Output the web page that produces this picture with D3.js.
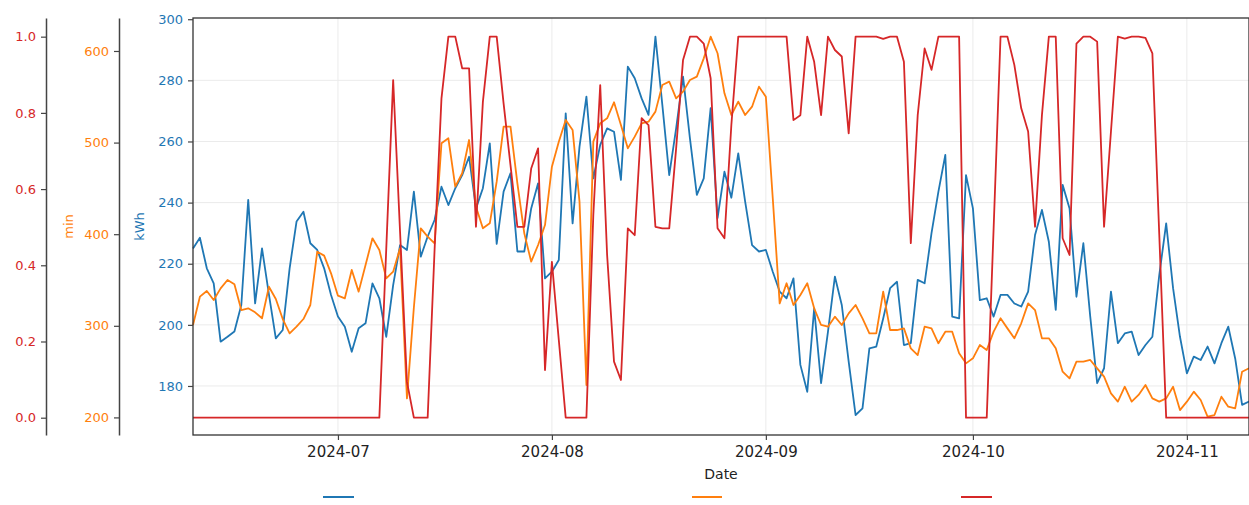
<!DOCTYPE html>
<html>
<head>
<meta charset="utf-8">
<script src="https://cdn.jsdelivr.net/npm/d3@7"></script>
<style>
  html, body { margin: 0; padding: 0; background: #fff; }
  svg { display: block; font-family: "DejaVu Sans", sans-serif; }
  .grid line { stroke: #ebebeb; stroke-width: 1; }
  .series { fill: none; stroke-width: 1.8; stroke-linejoin: round; }
  .axis .domain { stroke: #444; stroke-width: 1.5; }
  .axis .tick line { stroke: #444; stroke-width: 1.2; }
</style>
</head>
<body>
<svg id="chart" width="1249" height="505"></svg>
<script>
// daily series, first day 2024-06-10
const startDay = '2024-06-10';

const kwh = [
  225.0, 228.5, 218.5, 213.6, 194.5, 196.1, 197.8, 206.5, 240.9, 207.0,
  225.0, 210.0, 195.6, 198.3, 218.5, 233.8, 237.0, 226.7, 224.5, 218.5,
  209.8, 202.7, 199.4, 191.2, 198.9, 200.5, 213.6, 208.7, 196.1, 213.0,
  226.1, 224.5, 243.6, 222.3, 228.9, 234.3, 245.2, 239.2, 244.7, 249.0,
  255.0, 238.1, 244.7, 259.4, 226.5, 243.6, 249.6, 224.0, 224.0, 238.1,
  246.3, 215.2, 217.4, 221.2, 269.2, 233.2, 258.3, 274.7, 247.9, 258.9,
  264.3, 263.2, 247.4, 284.5, 280.7, 274.1, 268.7, 294.3, 272.0, 249.0,
  264.3, 281.2, 261.0, 242.5, 247.9, 270.9, 234.9, 250.1, 241.6, 256.1,
  240.3, 226.1, 224.0, 224.5, 217.4, 210.9, 208.7, 215.2, 186.9, 178.1,
  205.4, 180.9, 197.8, 215.8, 206.5, 188.0, 170.5, 172.7, 192.3, 192.9,
  202.1, 212.0, 214.1, 193.4, 194.0, 214.7, 213.6, 230.0, 243.6, 255.6,
  202.7, 202.1, 249.0, 238.1, 208.1, 208.7, 202.7, 209.8, 209.8, 207.0,
  206.0, 210.9, 229.4, 237.6, 227.2, 204.9, 245.8, 238.1, 209.2, 226.7,
  202.7, 180.9, 185.8, 210.9, 194.0, 197.2, 197.8, 190.1, 193.4, 196.1,
  216.3, 233.2, 212.0, 196.1, 184.1, 189.6, 188.5, 192.9, 187.4, 194.0,
  199.4, 189.0, 173.8, 174.9
];

const minutes = [
  300.9, 331.8, 338.0, 328.2, 340.9, 350.0, 345.3, 317.2, 319.1, 314.7,
  308.2, 342.7, 329.3, 307.4, 291.8, 299.0, 307.4, 322.7, 380.9, 376.6,
  357.3, 332.9, 330.0, 361.0, 337.3, 366.4, 395.5, 382.8, 351.8, 359.1,
  384.6, 220.8, 320.0, 406.4, 397.3, 390.0, 499.2, 504.7, 451.9, 466.5,
  502.8, 430.0, 406.4, 411.9, 457.3, 517.4, 517.4, 455.5, 400.9, 370.0,
  388.2, 410.0, 473.7, 501.0, 524.7, 513.8, 435.5, 235.4, 501.0, 521.0,
  526.5, 544.0, 519.2, 493.7, 506.5, 521.0, 522.8, 533.8, 562.9, 566.5,
  548.3, 555.6, 568.3, 572.0, 592.0, 615.6, 597.5, 553.8, 530.1, 544.7,
  530.1, 539.2, 561.0, 550.1, 439.2, 324.5, 346.4, 322.7, 333.6, 346.4,
  319.1, 300.9, 299.0, 310.0, 300.9, 313.6, 322.7, 308.2, 291.8, 291.8,
  337.3, 295.4, 295.4, 297.2, 275.4, 268.1, 299.0, 297.2, 280.9, 293.6,
  293.6, 270.0, 259.0, 264.5, 279.0, 273.6, 293.6, 308.2, 297.2, 286.3,
  302.7, 324.5, 317.2, 286.3, 286.3, 275.4, 249.9, 242.6, 260.8, 260.8,
  262.7, 253.6, 244.5, 226.3, 217.2, 233.5, 217.2, 224.5, 235.4, 220.8,
  217.2, 220.8, 233.5, 208.0, 217.2, 228.1, 219.0, 200.8, 202.6, 222.6,
  211.7, 209.9, 249.9, 253.6
];

const ratio = [
  0, 0, 0, 0, 0, 0, 0, 0, 0, 0,
  0, 0, 0, 0, 0, 0, 0, 0, 0, 0,
  0, 0, 0, 0, 0, 0, 0, 0, 0.443, 0.886,
  0.488, 0.094, 0, 0, 0, 0.44, 0.838, 1.0, 1.0, 0.917,
  0.917, 0.501, 0.829, 1.0, 1.0, 0.825, 0.663, 0.501, 0.501, 0.654,
  0.707, 0.125, 0.409, 0.204, 0, 0, 0, 0, 0.532, 0.873,
  0.427, 0.147, 0.099, 0.497, 0.479, 0.786, 0.768, 0.501, 0.497, 0.497,
  0.707, 0.939, 1.0, 1.0, 0.982, 0.891, 0.497, 0.471, 0.768, 1.0,
  1.0, 1.0, 1.0, 1.0, 1.0, 1.0, 1.0, 0.781, 0.794, 1.0,
  0.934, 0.794, 1.0, 0.965, 0.948, 0.746, 1.0, 1.0, 1.0, 1.0,
  0.994, 1.0, 1.0, 0.934, 0.458, 0.794, 0.969, 0.913, 1.0, 1.0,
  1.0, 1.0, 0, 0, 0, 0, 0.497, 1.0, 1.0, 0.926,
  0.812, 0.751, 0.501, 0.794, 1.0, 1.0, 0.471, 0.427, 0.982, 1.0,
  1.0, 0.987, 0.501, 0.751, 1.0, 0.995, 1.0, 1.0, 0.997, 0.956,
  0.48, 0, 0, 0, 0, 0, 0, 0, 0, 0,
  0, 0, 0, 0
];

const kwhTicks = [180, 200, 220, 240, 260, 280, 300];
const minTicks = [200, 300, 400, 500, 600];
const ratioTicks = [0, 0.2, 0.4, 0.6, 0.8, 1.0];

const colors = { kwh: '#1f77b4', min: '#ff7f0e', ratio: '#d62728' };

const config = {
  plot: { l: 193, r: 1249, t: 18, b: 435 },
  minAxisX: 119,
  ratioAxisX: 46,
  legendY: 497
};

const svg = d3.select('#chart');
const p = config.plot;
const start = d3.utcParse('%Y-%m-%d')(startDay);
const dates = kwh.map((_, i) => d3.utcDay.offset(start, i));

const x = d3.scaleUtc()
    .domain([start, dates[dates.length - 1]])
    .range([p.l, p.r]);
const yK = d3.scaleLinear().domain([163.96, 300.4]).range([p.b, p.t]);
const yM = d3.scaleLinear().domain([180.8, 636]).range([p.b, p.t]);
const yR = d3.scaleLinear().domain([-0.0454, 1.049]).range([p.b, p.t]);

const monthTicks = d3.utcMonth.range(d3.utcMonth.ceil(start), dates[dates.length - 1]);

// grid
const grid = svg.append('g').attr('class', 'grid');
grid.selectAll('.h').data(kwhTicks.slice(0, -1)).enter().append('line')
    .attr('x1', p.l).attr('x2', p.r)
    .attr('y1', d => yK(d)).attr('y2', d => yK(d));
grid.selectAll('.v').data(monthTicks).enter().append('line')
    .attr('y1', p.t).attr('y2', p.b)
    .attr('x1', d => x(d)).attr('x2', d => x(d));

// lines: blue first, red on top (like twinx stacking)
const series = [
  { values: kwh, y: yK, color: colors.kwh },
  { values: minutes, y: yM, color: colors.min },
  { values: ratio, y: yR, color: colors.ratio }
];
series.forEach(s => {
  const line = d3.line()
      .x((d, i) => x(dates[i]))
      .y(d => s.y(d));
  svg.append('path')
      .attr('class', 'series')
      .attr('stroke', s.color)
      .attr('d', line(s.values));
});

// frame
svg.append('rect')
    .attr('x', p.l).attr('y', p.t)
    .attr('width', p.r - p.l).attr('height', p.b - p.t)
    .attr('fill', 'none').attr('stroke', '#333').attr('stroke-width', 1.3);

// y axes
function yAxis(scale, ticks, fmt, xPos, color) {
  const g = svg.append('g')
      .attr('class', 'axis')
      .attr('transform', `translate(${xPos},0)`)
      .call(d3.axisLeft(scale).tickValues(ticks).tickFormat(fmt)
        .tickSize(5).tickSizeOuter(0).tickPadding(5));
  g.selectAll('.tick text')
      .attr('fill', color)
      .style('font-size', '13px')
      .style('font-family', '"DejaVu Sans", sans-serif');
  return g;
}
yAxis(yK, kwhTicks, d3.format('d'), p.l, colors.kwh).select('.domain').remove();
yAxis(yM, minTicks, d3.format('d'), config.minAxisX, colors.min);
yAxis(yR, ratioTicks, d3.format('.1f'), config.ratioAxisX, colors.ratio);

// axis titles
svg.append('text')
    .attr('transform', `translate(139,${(p.t + p.b) / 2}) rotate(-90)`)
    .attr('text-anchor', 'middle').attr('dy', '0.35em')
    .attr('fill', colors.kwh).style('font-size', '13px')
    .text('kWh');
svg.append('text')
    .attr('transform', `translate(68,${(p.t + p.b) / 2}) rotate(-90)`)
    .attr('text-anchor', 'middle').attr('dy', '0.35em')
    .attr('fill', colors.min).style('font-size', '13px')
    .text('min');

// x axis
const xg = svg.append('g')
    .attr('class', 'axis')
    .attr('transform', `translate(0,${p.b})`)
    .call(d3.axisBottom(x).tickValues(monthTicks)
      .tickFormat(d3.utcFormat('%Y-%m')).tickSize(5).tickSizeOuter(0).tickPadding(6));
xg.select('.domain').remove();
xg.selectAll('.tick text')
    .attr('fill', '#222')
    .style('font-size', '15px')
    .style('font-family', '"DejaVu Sans", sans-serif');

svg.append('text')
    .attr('x', (p.l + p.r) / 2).attr('y', 479)
    .attr('text-anchor', 'middle')
    .attr('fill', '#222').style('font-size', '14px')
    .text('Date');

// legend handles (no labels in the picture)
const legendItems = [
  { color: colors.kwh, x0: 323, x1: 354 },
  { color: colors.min, x0: 692, x1: 722 },
  { color: colors.ratio, x0: 961, x1: 992 }
];
svg.append('g').selectAll('line').data(legendItems).enter().append('line')
    .attr('x1', d => d.x0).attr('x2', d => d.x1)
    .attr('y1', config.legendY).attr('y2', config.legendY)
    .attr('stroke', d => d.color).attr('stroke-width', 2);
</script>
</body>
</html>
